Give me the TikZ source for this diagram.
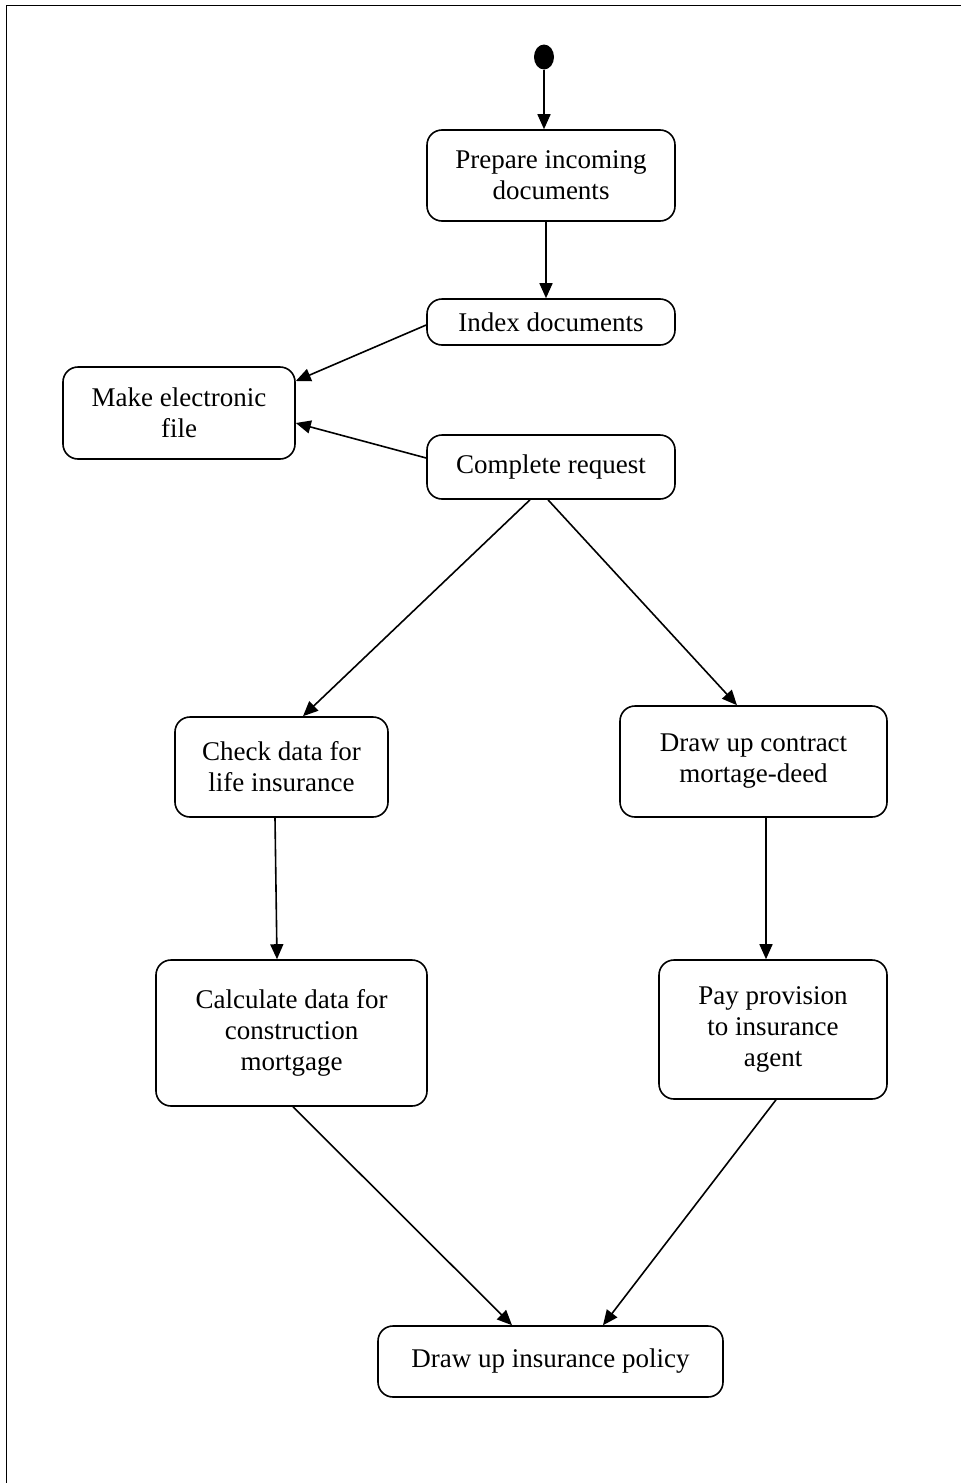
\documentclass[tikz,border=0pt]{standalone}
\usepackage{fontspec}
\setmainfont{Liberation Serif}
\usetikzlibrary{arrows.meta,shapes.geometric}
\begin{document}
\begin{tikzpicture}[x=1pt,y=-1pt,
  act/.style={draw, rounded corners=15pt, line width=1.6pt, align=center,
    inner sep=0pt, font=\fontsize{27}{31}\selectfont},
  flow/.style={line width=1.6pt, -{Triangle[length=15pt,width=13pt]}}]
  \useasboundingbox (0,0) rectangle (961,1483);
  % frame (top and left edges)
  \draw[line width=1.6pt] (961,5.5) -- (6.5,5.5) -- (6.5,1483);

  % initial state
  \node[fill, ellipse, minimum width=20pt, minimum height=25pt, inner sep=0pt] (start) at (544,57) {};

  % activities
  \node[act, minimum width=248pt, minimum height=91pt] (prep) at (551,175.5) {Prepare incoming\\documents};
  \node[act, minimum width=248pt, minimum height=46pt] (index) at (551,322) {Index documents};
  \node[act, minimum width=232pt, minimum height=92pt] (efile) at (179,413) {Make electronic\\file};
  \node[act, minimum width=248pt, minimum height=64pt] (req) at (551,467) {Complete request};
  \node[act, minimum width=213pt, minimum height=100pt] (check) at (281.5,767) {Check data for\\life insurance};
  \node[act, minimum width=267pt, minimum height=111pt] (deed) at (753.5,761.5) {Draw up contract\\mortage-deed};
  \node[act, minimum width=271pt, minimum height=146pt] (calc) at (291.5,1033) {Calculate data for\\construction\\mortgage};
  \node[act, minimum width=228pt, minimum height=139pt] (pay) at (773,1029.5) {Pay provision\\to insurance\\agent};
  \node[act, minimum width=345pt, minimum height=71pt] (policy) at (550.5,1361.5) {Draw up insurance policy};

  % transitions
  \draw[flow] (start.south) -- ([xshift=-7pt]prep.north);
  \draw[flow] ([xshift=-5pt]prep.south) -- ([xshift=-5pt]index.north);
  \draw[flow] ([yshift=-3pt]index.west) -- ([yshift=32pt]efile.east);
  \draw[flow] ([yshift=9pt]req.west) -- ([yshift=-10pt]efile.east);
  \draw[flow] ([xshift=-21pt]req.south) -- ([xshift=21.5pt]check.north);
  \draw[flow] ([xshift=-3pt]req.south) -- ([xshift=-16.5pt]deed.north);
  \draw[flow] ([xshift=-6.5pt]check.south) -- ([xshift=-14.5pt]calc.north);
  \draw[flow] ([xshift=12.5pt]deed.south) -- ([xshift=-7pt]pay.north);
  \draw[flow] ([xshift=1.5pt]calc.south) -- ([xshift=-38.5pt]policy.north);
  \draw[flow] ([xshift=3pt]pay.south) -- ([xshift=52.5pt]policy.north);
\end{tikzpicture}
\end{document}
